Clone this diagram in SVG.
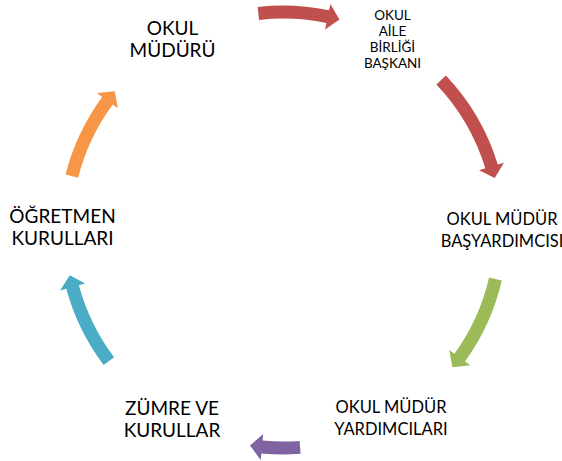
<svg xmlns="http://www.w3.org/2000/svg" width="562" height="461" viewBox="0 0 562 461">
<style>
text{font-family:Lato,"Liberation Sans",sans-serif;fill:#000;text-anchor:middle}
.big{font-size:19px}
.mid{font-size:16.5px}
.sm{font-size:13.5px}
</style>
<rect width="562" height="461" fill="#fff"/>
<g id="connectors">
<path id="a1" fill="#C0504D" d="M257.6,6.9 A224.5,224.5 0 0 1 329.1,10.3 L330.4,3.9 L339.4,19.4 L325.1,29.4 L326.4,23.0 A211.5,211.5 0 0 0 259.1,19.9 Z"/>
<path id="a2" fill="#C0504D" d="M445.9,75.5 A224.5,224.5 0 0 1 497.8,164.6 L504.0,162.7 L494.7,178.0 L479.1,170.2 L485.3,168.3 A211.5,211.5 0 0 0 436.4,84.4 Z"/>
<path id="a3" fill="#9BBB59" d="M501.8,280.5 A224.5,224.5 0 0 1 465.0,361.5 L470.3,365.3 L452.4,367.2 L449.2,350.0 L454.5,353.8 A211.5,211.5 0 0 0 489.1,277.6 Z"/>
<path id="a4" fill="#8064A2" d="M300.6,453.8 A224.5,224.5 0 0 1 261.3,453.5 L260.7,459.9 L250.0,445.5 L263.2,434.0 L262.6,440.5 A211.5,211.5 0 0 0 299.6,440.9 Z"/>
<path id="a5" fill="#4BACC6" d="M103.7,365.1 A224.5,224.5 0 0 1 66.3,288.7 L60.0,290.4 L69.8,275.3 L85.1,283.6 L78.9,285.3 A211.5,211.5 0 0 0 114.1,357.3 Z"/>
<path id="a6" fill="#F79646" d="M65.5,174.6 A224.5,224.5 0 0 1 102.2,96.9 L97.0,93.0 L114.8,91.3 L117.9,108.5 L112.7,104.6 A211.5,211.5 0 0 0 78.1,177.8 Z"/>
</g>
<g id="n1"><text class="big" x="172.5" y="35">OKUL</text><text class="big" x="172.5" y="57">MÜDÜRÜ</text></g>
<g id="n2"><text class="sm" x="392.5" y="20">OKUL</text><text class="sm" x="392.5" y="36">AİLE</text><text class="sm" x="392.5" y="52">BİRLİĞİ</text><text class="sm" x="392.5" y="68">BAŞKANI</text></g>
<g id="n3"><text class="mid" x="502" y="225">OKUL MÜDÜR</text><text class="mid" x="502" y="247">BAŞYARDIMCISI</text></g>
<g id="n4"><text class="mid" x="391" y="413">OKUL MÜDÜR</text><text class="mid" x="391" y="435">YARDIMCILARI</text></g>
<g id="n5"><text class="big" x="172" y="415">ZÜMRE VE</text><text class="big" x="172" y="437">KURULLAR</text></g>
<g id="n6"><text class="big" x="62.5" y="223">ÖĞRETMEN</text><text class="big" x="62.5" y="245">KURULLARI</text></g>
</svg>
